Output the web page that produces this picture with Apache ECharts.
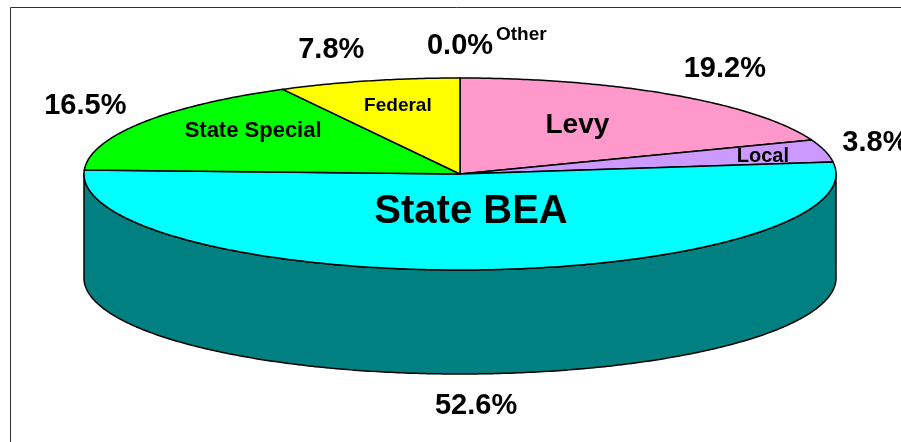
<!DOCTYPE html>
<html>
<head>
<meta charset="utf-8">
<script src="https://cdn.jsdelivr.net/npm/echarts@6/dist/echarts.min.js"></script>
<style>
  html, body { margin: 0; padding: 0; background: #fff; }
  #chart { width: 901px; height: 442px; }
</style>
</head>
<body>
<div id="chart"></div>
<script>
// slices, clockwise from 12 o'clock
const categories = ['Levy', 'Local', 'State BEA', 'State Special', 'Federal', 'Other'];
const shares = [19.2, 3.8, 52.6, 16.5, 7.8, 0.0];
const topColors = ['#FF99CC', '#CC99FF', '#00FFFF', '#00FF00', '#FFFF00', '#9999FF'];
const sideColors = ['#804D66', '#664D80', '#008080', '#008000', '#808000', '#4D4D80'];

// name label look (font size, radial factors x/y inside the top face)
const nameSize = [28, 20, 40, 22, 19, 19];
const nameR = [[0.55, 0.62], [0.83, 0.77], [0.72, 0.40], [0.65, 0.85], [0.68, 0.73], [0, 0]];

// tilted disc
const cx = 460, cy = 174, rx = 376, ry = 96, depth = 104;
const FONT = '"Liberation Sans", Arial, sans-serif';

const total = shares.reduce((s, v) => s + v, 0);
const starts = [];
let acc = 0;
shares.forEach(v => { starts.push(acc / total * Math.PI * 2); acc += v; });

function pt(t, dy) {
  return [cx + rx * Math.sin(t), cy - ry * Math.cos(t) + dy];
}
function arc(a, b, dy) {
  const n = Math.max(2, Math.ceil((b - a) / 0.01));
  const out = [];
  for (let k = 0; k <= n; k++) out.push(pt(a + (b - a) * k / n, dy));
  return out;
}
function txt(text, x, y, size, align, valign, z2) {
  return {
    type: 'text', z2: z2 || 5,
    style: {
      text: text, x: x, y: y, fill: '#000',
      font: 'bold ' + size + 'px ' + FONT,
      align: align, verticalAlign: valign,
      textAlign: align, textVerticalAlign: valign
    }
  };
}

const chart = echarts.init(document.getElementById('chart'));

chart.setOption({
  backgroundColor: '#fff',
  animation: false,
  graphic: [{
    type: 'rect', left: 8, top: 5, z: -1,
    shape: { width: 1000, height: 1000 },
    style: { fill: 'none', stroke: '#333', lineWidth: 1 }
  }],
  series: [{
    type: 'custom',
    coordinateSystem: 'none',
    data: shares.map((v, i) => ({ name: categories[i], value: [v] })),
    renderItem: function (params, api) {
      const i = params.dataIndex;
      const v = api.value(0);
      const a0 = starts[i];
      const a1 = a0 + v / total * Math.PI * 2;
      const mid = (a0 + a1) / 2;
      const children = [];

      if (v > 0) {
        // front wall
        const s0 = Math.max(a0, Math.PI / 2), s1 = Math.min(a1, Math.PI * 1.5);
        if (s1 > s0) {
          const top = arc(s0, s1, 0);
          const bot = arc(s0, s1, depth).reverse();
          children.push({
            type: 'polygon', z2: 0,
            shape: { points: top.concat(bot) },
            style: { fill: sideColors[i], stroke: '#000', lineWidth: 1.5, lineJoin: 'round' }
          });
        }
        // top face
        children.push({
          type: 'polygon', z2: 1,
          shape: { points: [[cx, cy]].concat(arc(a0, a1, 0)) },
          style: { fill: topColors[i], stroke: '#000', lineWidth: 1.5, lineJoin: 'round' }
        });
        // category name on the slice
        const nx = cx + rx * nameR[i][0] * Math.sin(mid);
        const ny = cy - ry * nameR[i][1] * Math.cos(mid);
        children.push(txt(categories[i], nx, ny, nameSize[i], 'center', 'middle'));
      }

      // percentage outside
      const s = Math.sin(mid), c = Math.cos(mid);
      const align = s > 0.2 ? 'left' : (s < -0.2 ? 'right' : 'center');
      const px = cx + (rx + 18) * s;
      const py = cy - (ry + 32) * c + (c < 0 ? depth : 0);
      children.push(txt(v.toFixed(1) + '%', px, py, 29, align, 'middle'));
      if (v === 0) {
        // no room on the slice: name sits beside its value
        children.push(txt(categories[i], px + 36, py - 11, nameSize[i], 'left', 'middle'));
      }
      return { type: 'group', children: children };
    }
  }]
});
</script>
</body>
</html>
